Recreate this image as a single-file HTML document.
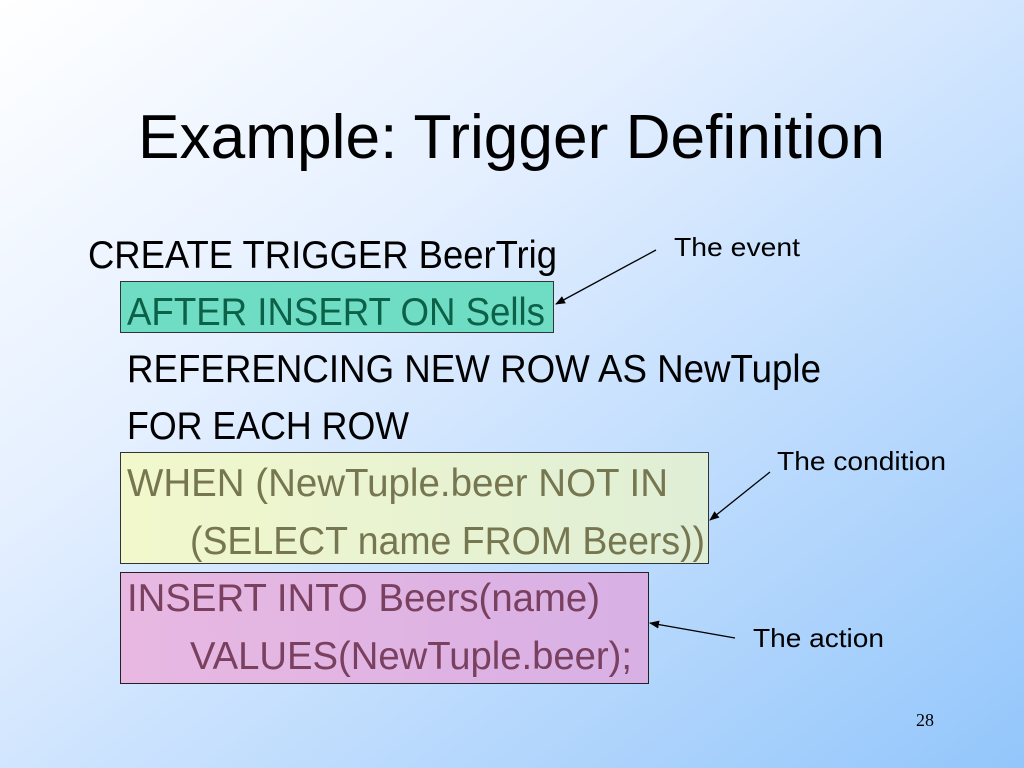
<!DOCTYPE html>
<html><head><meta charset="utf-8"><style>
html,body{margin:0;padding:0;width:1024px;height:768px;overflow:hidden}
</style></head><body>
<svg width="1024" height="768" xmlns="http://www.w3.org/2000/svg" font-family="'Liberation Sans', sans-serif">
<defs>
<linearGradient id="bg" x1="0" y1="0" x2="1" y2="1">
<stop offset="0" stop-color="#ffffff"/><stop offset="0.35" stop-color="#e4efff"/><stop offset="1" stop-color="#93c6fb"/>
</linearGradient>
<linearGradient id="cond" x1="0" y1="0" x2="1" y2="0">
<stop offset="0" stop-color="#f2f8cc"/><stop offset="1" stop-color="#dfeed6"/>
</linearGradient>
<linearGradient id="act" x1="0" y1="0" x2="1" y2="0">
<stop offset="0" stop-color="#e8b8e2"/><stop offset="1" stop-color="#d8b0e4"/>
</linearGradient>
<marker id="ah" markerWidth="10" markerHeight="8" refX="9" refY="4" orient="auto" markerUnits="userSpaceOnUse">
<path d="M0,0 L10,4 L0,8 Z" fill="#000"/>
</marker>
</defs>
<rect width="1024" height="768" fill="url(#bg)"/>
<text x="138" y="158" font-size="62" textLength="747" lengthAdjust="spacingAndGlyphs">Example: Trigger Definition</text>
<rect x="120.5" y="281.5" width="433" height="51" fill="#6fdcc4" stroke="#333" stroke-width="1"/>
<rect x="120.5" y="452.5" width="588" height="111" fill="url(#cond)" stroke="#333" stroke-width="1"/>
<rect x="120.5" y="572.5" width="528" height="111" fill="url(#act)" stroke="#222" stroke-width="1"/>
<g font-size="39">
<text x="88" y="268" textLength="469" lengthAdjust="spacingAndGlyphs">CREATE TRIGGER BeerTrig</text>
<text x="127" y="325" fill="#0b6248" textLength="418" lengthAdjust="spacingAndGlyphs">AFTER INSERT ON Sells</text>
<text x="127" y="382" textLength="694" lengthAdjust="spacingAndGlyphs">REFERENCING NEW ROW AS NewTuple</text>
<text x="127" y="439" textLength="282" lengthAdjust="spacingAndGlyphs">FOR EACH ROW</text>
<text x="127" y="496" fill="#767650" textLength="541" lengthAdjust="spacingAndGlyphs">WHEN (NewTuple.beer NOT IN</text>
<text x="190" y="554" fill="#767650" textLength="515" lengthAdjust="spacingAndGlyphs">(SELECT name FROM Beers))</text>
<text x="127" y="611" fill="#7a4060" textLength="473" lengthAdjust="spacingAndGlyphs">INSERT INTO Beers(name)</text>
<text x="190" y="669" fill="#7a4060" textLength="442" lengthAdjust="spacingAndGlyphs">VALUES(NewTuple.beer);</text>
</g>
<g font-size="26">
<text x="674" y="256" textLength="126" lengthAdjust="spacingAndGlyphs">The event</text>
<text x="777" y="470" textLength="169" lengthAdjust="spacingAndGlyphs">The condition</text>
<text x="753" y="647" textLength="131" lengthAdjust="spacingAndGlyphs">The action</text>
</g>
<text x="916" y="726" font-family="'Liberation Serif', serif" font-size="18">28</text>
<g stroke="#000" stroke-width="1.3" fill="none" marker-end="url(#ah)">
<line x1="656" y1="250" x2="556" y2="304"/>
<line x1="770" y1="472" x2="710" y2="520"/>
<line x1="735" y1="638" x2="650" y2="623"/>
</g>
</svg>
</body></html>
